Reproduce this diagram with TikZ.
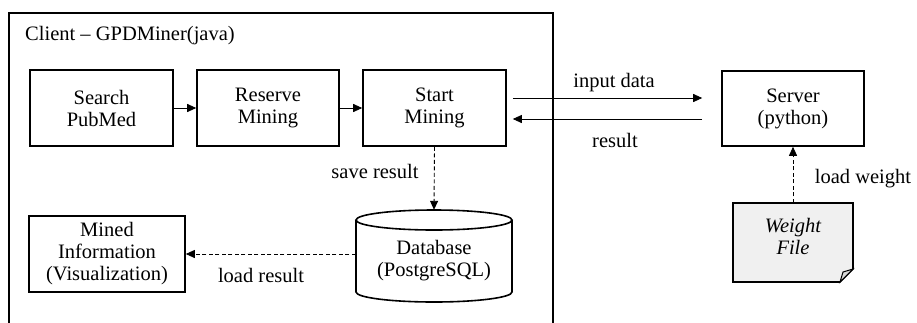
\documentclass[tikz,border=0pt]{standalone}
\usepackage{fontspec}
\setmainfont{Liberation Serif}
\usetikzlibrary{arrows.meta,calc}
\tikzset{
  box/.style={draw, line width=1.6pt, minimum width=143pt, minimum height=76pt, align=center, inner sep=0pt},
  conn/.style={line width=0.9pt, -{Triangle[length=9pt,width=8pt]}},
  dconn/.style={conn, dash pattern=on 4pt off 2.5pt},
  lbl/.style={inner sep=0pt, anchor=base},
  frame/.style={line width=1.6pt},
}
\begin{document}
\begin{tikzpicture}[x=1pt, y=1pt, font=\fontsize{20.5}{22}\selectfont]
\useasboundingbox (0,0) rectangle (917,-322);
% client frame
\draw[frame] (9,-330) -- (9,-13) -- (553,-13) -- (553,-330);
\node[inner sep=0pt, anchor=base west] (title) at (25,-40) {Client – GPDMiner(java)};
% boxes
\node[box] (search) at (101.5,-108) {Search\\PubMed};
\node[box, minimum width=142pt] (reserve) at (268,-108) {Reserve\\Mining};
\node[box] (start) at (434.5,-108) {Start\\Mining};
\node[box, minimum width=142pt, minimum height=75pt] (server) at (793,-108.5) {Server\\(python)};
\node[box, minimum width=156pt] (mined) at (107,-254) {Mined\\Information\\(Visualization)};
% database cylinder
\node[minimum width=156pt, minimum height=92pt, inner sep=0pt] (db) at (434,-256) {};
\draw[frame] (434,-220) ellipse[x radius=78pt, y radius=10pt];
\draw[frame] (356,-220) -- (356,-292) arc[start angle=180, end angle=360, x radius=78pt, y radius=10pt] -- (512,-220);
\node[align=center, inner sep=0pt] (dbtext) at (434,-261) {Database\\(PostgreSQL)};
% weight file
\node[minimum width=120pt, minimum height=79pt, inner sep=0pt] (weight) at (793,-242.5) {};
\draw[frame, fill=black!6] (733,-203) -- (853,-203) -- (853,-269) -- (840,-282) -- (733,-282) -- cycle;
\draw[line width=1pt, fill=black!15] (840,-282) -- (843,-272) -- (853,-269) -- cycle;
\node[align=center, inner sep=0pt, font=\fontsize{20.5}{22}\selectfont\itshape] (wtext) at (793,-236) {Weight\\File};
% connectors
\draw[conn] (search) -- (reserve);
\draw[conn] (reserve) -- (start);
\draw[conn] ([xshift=6pt, yshift=10pt]start.east) -- ([xshift=-19pt, yshift=10.5pt]server.west);
\draw[conn] ([xshift=-19pt, yshift=-10.5pt]server.west) -- ([xshift=6pt, yshift=-11pt]start.east);
\draw[dconn] (start.south) -- (db.north);
\draw[dconn] ([yshift=2pt]db.west) -- (mined.east);
\draw[dconn] (weight.north) -- (server.south);
% labels
\node[lbl] (l1) at (614,-87) {input data};
\node[lbl] (l2) at (615,-147) {result};
\node[lbl] (l3) at (375,-178) {save result};
\node[lbl] (l4) at (261,-282) {load result};
\node[lbl] (l5) at (863,-183) {load weight};
\end{tikzpicture}
\end{document}
